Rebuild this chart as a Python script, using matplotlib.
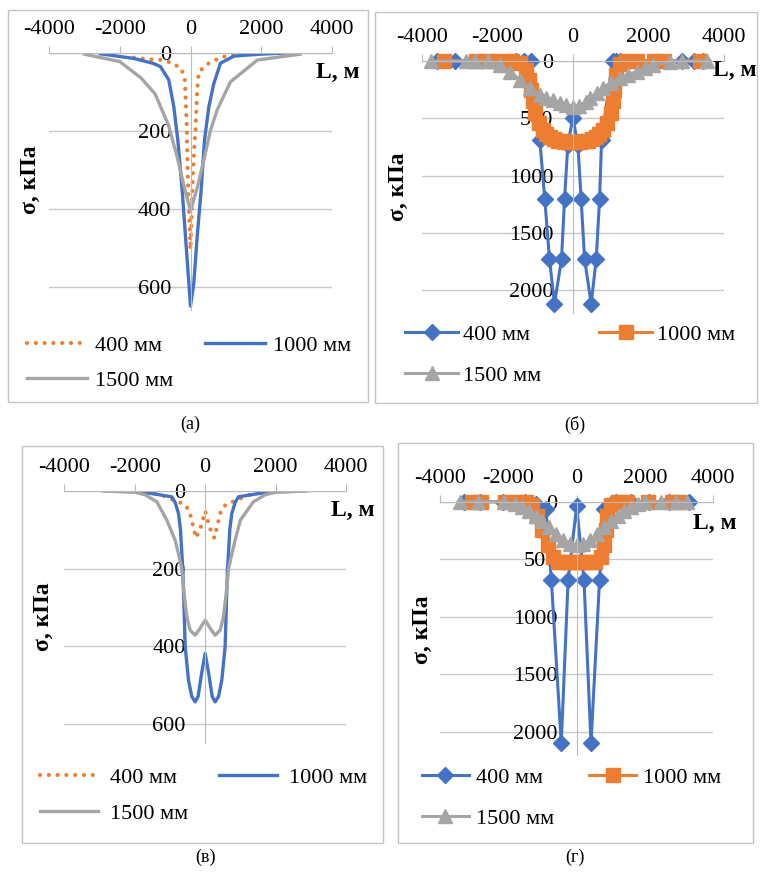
import matplotlib
matplotlib.use("Agg")
import matplotlib.pyplot as plt
from matplotlib.patches import Rectangle

W, H = 760, 875
plt.rcParams["font.family"] = ["Liberation Serif", "DejaVu Serif"]
plt.rcParams["axes.unicode_minus"] = False

BLUE = "#4472C4"
ORANGE = "#ED7D31"
GRAY = "#A5A5A5"
AXIS_GRAY = "#BBBBBB"
GRID_GRAY = "#C8C8C8"
FS = 16

SERIES = ["400 мм", "1000 мм", "1500 мм"]
X_TICKS = [-4000, -2000, 0, 2000, 4000]
Y_TICKS_SMALL = [0, 200, 400, 600]
Y_TICKS_BIG = [0, 500, 1000, 1500, 2000]

# ---- panel (а): smooth lines, single peak
a_x_400 = [-1600, -1200, -800, -540, -255, -160, -110, -80, -50, -20, 0, 25, 60, 100, 141, 189, 236, 520, 900, 1400]
a_s_400 = [12, 16, 18, 25, 40, 70, 180, 300, 390, 460, 505, 440, 330, 250, 197, 95, 48, 26, 10, 3]
a_x_1000 = [-2550, -1600, -1040, -850, -614, -472, -359, -236, -142, -47, 0, 94, 189, 302, 396, 519, 660, 850, 1226, 1980, 2700]
a_s_1000 = [2, 14, 27, 35, 69, 138, 223, 351, 471, 590, 650, 590, 471, 351, 223, 138, 78, 26, 8, 3, 0]
a_x_1500 = [-3000, -2000, -1400, -1000, -620, -380, -180, 0, 200, 400, 560, 755, 1130, 1890, 3100]
a_s_1500 = [3, 22, 64, 105, 186, 266, 343, 405, 343, 266, 200, 146, 74, 18, 3]

# ---- panel (б): markers, single centre load
b_x_400 = [-3600, -3130, -1500, -1300, -1100, -875, -742, -618, -486, -300, -220, -133, 0,
           133, 220, 310, 486, 618, 707, 760, 1050, 1150, 1250, 2900, 3200, 3450]
b_s_400 = [0, 0, 0, 0, 0, 690, 1209, 1730, 2120, 1730, 1209, 730, 495,
           730, 1209, 1730, 2120, 1730, 1209, 690, 0, 0, 0, 0, 0, 0]
b_x_1000 = [-3400, -2550, -2250, -1950, -1600, -1400, -1250, -1150, -1100, -1050,
            -1000, -900, -800, -700, -600, -500, -400, -300, -200, -100, 0,
            100, 200, 300, 400, 500, 600, 700, 800, 900, 1000,
            1050, 1100, 1150, 1250, 1400, 1700, 2150, 2400, 3370]
b_s_1000 = [0, 0, 0, 0, 0, 20, 80, 170, 250, 350,
            450, 540, 600, 640, 665, 685, 695, 700, 705, 705, 705,
            705, 705, 700, 695, 685, 665, 640, 600, 540, 450,
            350, 250, 120, 30, 0, 0, 0, 0, 0]
b_x_1500 = [-3750, -2820, -2600, -2240, -1930, -1670, -1400, -1140, -875, -700, -520, -350, -170, 0,
            170, 350, 450, 650, 800, 1000, 1245, 1450, 1690, 1900, 2130, 2570, 2900, 3540]
b_s_1500 = [0, 0, 0, 0, 35, 93, 165, 237, 296, 320, 340, 365, 383, 400,
            390, 360, 322, 280, 237, 190, 150, 120, 93, 60, 35, 6, 0, 0]

# ---- panel (в): smooth lines, double peak
c_x_400 = [-1900, -1300, -850, -600, -450, -260, -130, 0, 130, 260, 450, 600, 850, 1300, 1900]
c_s_400 = [0, 8, 25, 34, 50, 121, 95, 52, 95, 121, 50, 34, 25, 8, 0]
c_x_1000 = [-2800, -2000, -1560, -946, -850, -757, -700, -662, -634, -600, -568, -473, -380, -284, -200, -100, 0,
            100, 200, 284, 380, 473, 568, 600, 634, 662, 700, 757, 850, 946, 1560, 2000, 2800]
c_s_1000 = [0, 2, 6, 15, 30, 58, 100, 161, 202, 300, 400, 488, 530, 544, 530, 470, 419,
            470, 530, 544, 530, 488, 400, 300, 202, 161, 100, 58, 30, 15, 6, 2, 0]
c_x_1500 = [-2900, -2000, -1700, -1372, -1088, -852, -750, -662, -587, -520, -426, -284, -150, 0,
            150, 284, 426, 520, 587, 662, 750, 852, 1000, 1370, 1700, 2000, 2900]
c_s_1500 = [0, 3, 10, 28, 75, 127, 165, 202, 273, 325, 359, 372, 355, 333,
            355, 372, 359, 325, 273, 202, 165, 127, 75, 28, 10, 3, 0]

# ---- panel (г): markers, double load
d_x_400 = [-3300, -2815, -2150, -1500, -1200, -900, -740, -450, -250, 0, 215, 420, 670, 800, 1000, 1150, 1600, 2120, 2700, 3300]
d_s_400 = [0, 0, 0, 0, 20, 60, 680, 2100, 680, 40, 680, 2100, 680, 60, 20, 0, 0, 0, 0, 0]
d_x_1000 = [-3060, -2800, -2100, -1700, -1490, -1300, -1150, -1000, -850, -700, -550, -400, -250, -100, 0,
            100, 250, 400, 550, 700, 800, 850, 900, 1000, 1200, 1480, 2100, 2800, 3000]
d_s_1000 = [0, 0, 0, 0, 0, 30, 120, 250, 380, 480, 520, 525, 525, 525, 525,
            525, 525, 525, 520, 480, 380, 250, 120, 30, 0, 0, 0, 0, 0]
d_x_1500 = [-3400, -2900, -2130, -1800, -1600, -1400, -1200, -1000, -800, -600, -400, -200, 0,
            200, 400, 600, 800, 1000, 1200, 1400, 1600, 1800, 2000, 2460, 2900, 3240]
d_s_1500 = [0, 0, 0, 20, 50, 80, 120, 170, 220, 280, 330, 365, 375,
            365, 330, 280, 220, 170, 120, 80, 50, 20, 0, 0, 0, 0]


def px_rect(left, top, right, bottom):
    return [left / W, 1 - bottom / H, (right - left) / W, (bottom - top) / H]


def setup_axes(fig, rect, ymax, yticks):
    ax = fig.add_axes(px_rect(*rect))
    ax.set_xlim(-4000, 4000)
    ax.set_ylim(ymax, 0)
    ax.set_xticks(X_TICKS, labels=[str(v) for v in X_TICKS])
    ax.set_yticks(yticks, labels=[str(v) for v in yticks])
    ax.xaxis.set_ticks_position("top")
    for side in ["bottom", "right"]:
        ax.spines[side].set_visible(False)
    ax.spines["left"].set_position(("data", 0))
    ax.spines["left"].set_color(AXIS_GRAY)
    ax.spines["top"].set_color(AXIS_GRAY)
    ax.tick_params(axis="x", direction="out", length=5, color=AXIS_GRAY, labelsize=FS, pad=5)
    ax.tick_params(axis="y", length=0, labelsize=FS, pad=14)
    ax.grid(axis="y", color=GRID_GRAY, linewidth=1)
    ax.set_axisbelow(True)
    ax.patch.set_alpha(0)
    return ax


def add_legend(fig, handles, anchor, hl, htp, cs, ls):
    # Excel fills the legend row by row
    order = [0, 2, 1]
    fig.legend([handles[i] for i in order], [SERIES[i] for i in order], ncol=2,
               loc="upper left", bbox_to_anchor=(anchor[0] / W, 1 - anchor[1] / H),
               frameon=False, fontsize=FS, handlelength=hl, handletextpad=htp,
               columnspacing=cs, labelspacing=ls, borderpad=0, borderaxespad=0)


def add_labels(fig, ylab_xy, xlab_xy):
    fig.text(ylab_xy[0] / W, 1 - ylab_xy[1] / H, "σ, кПа", rotation=90, fontsize=17,
             fontweight="bold", ha="center", va="center")
    fig.text(xlab_xy[0] / W, 1 - xlab_xy[1] / H, "L, м", fontsize=17,
             fontweight="bold", ha="center", va="center")


fig = plt.figure(figsize=(W / 100, H / 100), dpi=100)

# panel frames
for l, t, r, b in [(8, 10, 368, 402), (375, 12, 757, 403), (22, 446, 383, 843), (398, 443, 753, 843)]:
    fig.add_artist(Rectangle((l / W, 1 - b / H), (r - l) / W, (b - t) / H, transform=fig.transFigure,
                             fill=False, edgecolor="#C4C4C4", linewidth=1))

dot_style = dict(color=ORANGE, linewidth=3.0, linestyle=(0, (0.01, 2.1)), dash_capstyle="round")
line_w = 2.4

# (а)
ax = setup_axes(fig, (49, 53, 332, 310), 660, Y_TICKS_SMALL)
h1, = ax.plot(a_x_400, a_s_400, **dot_style)
h2, = ax.plot(a_x_1000, a_s_1000, color=BLUE, linewidth=line_w)
h3, = ax.plot(a_x_1500, a_s_1500, color=GRAY, linewidth=line_w)
add_legend(fig, [h1, h2, h3], (27, 335), 2.7, 0.36, 1.45, 0.68)
add_labels(fig, (30, 180), (338, 72))

# (в)
ax = setup_axes(fig, (64.3, 491, 346, 743), 650, Y_TICKS_SMALL)
h1, = ax.plot(c_x_400, c_s_400, **dot_style)
h2, = ax.plot(c_x_1000, c_s_1000, color=BLUE, linewidth=line_w)
h3, = ax.plot(c_x_1500, c_s_1500, color=GRAY, linewidth=line_w)
add_legend(fig, [h1, h2, h3], (40, 767), 2.6, 0.54, 1.4, 0.72)
add_labels(fig, (43, 617), (353, 510))

# (б)
mk = dict(linewidth=2.2, clip_on=False)
ax = setup_axes(fig, (421.7, 61, 724, 313), 2200, Y_TICKS_BIG)
h1, = ax.plot(b_x_400, b_s_400, color=BLUE, marker="D", markersize=8.5, **mk)
h2, = ax.plot(b_x_1000, b_s_1000, color=ORANGE, marker="s", markersize=9.5, **mk)
h3, = ax.plot(b_x_1500, b_s_1500, color=GRAY, marker="^", markersize=10.5, **mk)
add_legend(fig, [h1, h2, h3], (405, 324), 2.4, 0.22, 2.6, 0.95)
add_labels(fig, (398, 187), (735, 70))

# (г)
ax = setup_axes(fig, (440, 501.7, 713.3, 755), 2200, Y_TICKS_BIG)
h1, = ax.plot(d_x_400, d_s_400, color=BLUE, marker="D", markersize=8.5, **mk)
h2, = ax.plot(d_x_1000, d_s_1000, color=ORANGE, marker="s", markersize=9.5, **mk)
h3, = ax.plot(d_x_1500, d_s_1500, color=GRAY, marker="^", markersize=10.5, **mk)
add_legend(fig, [h1, h2, h3], (422, 767), 2.1, 0.32, 1.6, 0.95)
add_labels(fig, (422, 630), (715, 523))

# captions
for txt, x, y in [("(а)", 190, 424), ("(б)", 575, 425), ("(в)", 205, 857), ("(г)", 575, 857)]:
    fig.text(x / W, 1 - y / H, txt, fontsize=13, ha="center", va="center")

fig.savefig("out.png", dpi=100)
